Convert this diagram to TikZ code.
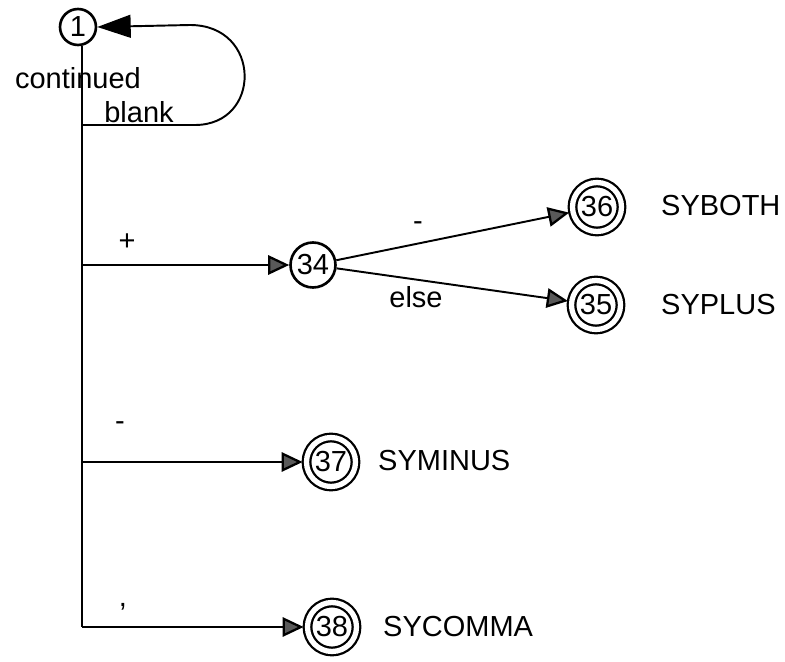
\documentclass[tikz,border=0pt]{standalone}
\usepackage{fontspec}
\setmainfont{Liberation Sans}
\usetikzlibrary{arrows.meta}
\tikzset{
    every node/.style={font=\fontsize{16.5}{19}\selectfont},
    state/.style={circle, draw, line width=1.5pt, inner sep=0pt,
        minimum size=0.9cm},
    finalstate/.style={circle, draw, line width=1.3pt, double,
        double distance=3pt, inner sep=0pt, minimum size=0.98cm,
        outer sep=2.2pt},
    trans/.style={line width=1.1pt,
        -{Triangle[length=12pt, width=11pt, fill=black!65, line width=1.3pt]}},
}
\begin{document}
\begin{tikzpicture}[x=0.02cm, y=-0.02cm]
        \useasboundingbox (0, 0) rectangle (785, 662);
        % states
        \node[state, minimum size=0.72cm] (s1) at (78, 27) {1};
        \node[state] (s34) at (313, 265) {34};
        \node[finalstate] (s36) at (597, 207) {36};
        \node[finalstate] (s35) at (596, 305) {35};
        \node[finalstate] (s37) at (331, 462) {37};
        \node[finalstate] (s38) at (332, 627) {38};
        \node[anchor=west] (t36) at (655, 206) {SYBOTH};
        \node[anchor=west] (t35) at (655, 305) {SYPLUS};
        \node[anchor=west] (t37) at (372, 461) {SYMINUS};
        \node[anchor=west] (t38) at (377, 627) {SYCOMMA};
        % the common stem and its branches
        \coordinate (loopstart) at (82, 125);
        \coordinate (b34) at (82, 265);
        \coordinate (b37) at (82, 462);
        \coordinate (b38) at (82, 627);
        \draw[line width=1.1pt] (s1.south -| b38) -- (b38);
        \draw[line width=1.1pt, -{Triangle[length=19pt, width=13pt]}]
            (loopstart) -- (195, 125) .. controls (262, 125) and (262, 25)
            .. (190, 25) -- (s1.east);
        \draw[trans] (b34) -- (s34);
        \draw[trans] (b37) -- (s37);
        \draw[trans] (b38) -- (s38);
        \draw[trans] (s34) -- (s36);
        \draw[trans] (s34) -- (s35);
        % labels on the transitions
        \node (lcont) at (78, 78) {continued};
        \node (lblank) at (139, 112) {blank};
        \node (lplus) at (127, 242) {+};
        \node (lminus) at (418, 226) {-};
        \node (lelse) at (416, 297) {else};
        \node (lminus2) at (120, 426) {-};
        \node (lcomma) at (123, 607) {,};
    \end{tikzpicture}
\end{document}
